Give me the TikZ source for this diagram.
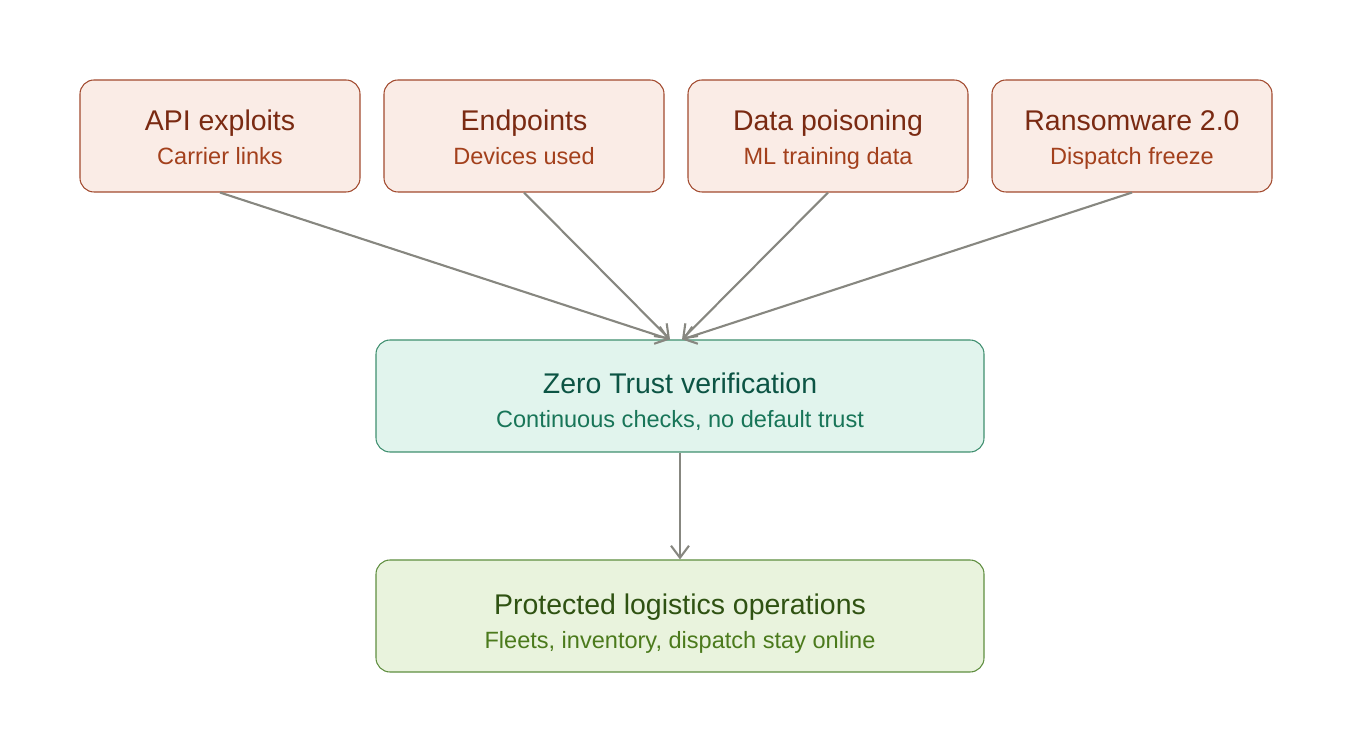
\documentclass[tikz,border=0pt]{standalone}
\usepackage{fontspec}
\setmainfont{Liberation Sans}
\usetikzlibrary{arrows.meta}

\definecolor{riskfill}{HTML}{FAECE6}
\definecolor{riskline}{HTML}{A24A2E}
\definecolor{risktitle}{HTML}{7A2A12}
\definecolor{risksub}{HTML}{A3401C}
\definecolor{ztfill}{HTML}{E1F4ED}
\definecolor{ztline}{HTML}{3F8F6F}
\definecolor{zttitle}{HTML}{0C5444}
\definecolor{ztsub}{HTML}{187558}
\definecolor{okfill}{HTML}{E9F3DD}
\definecolor{okline}{HTML}{5F8E40}
\definecolor{oktitle}{HTML}{2F5212}
\definecolor{oksub}{HTML}{4B7A1C}
\definecolor{arrowgray}{HTML}{878780}

\tikzset{
  box/.style={rectangle,rounded corners=0.28cm,line width=0.6pt,inner sep=0pt},
  riskbox/.style={box,draw=riskline,fill=riskfill,minimum width=5.6cm,minimum height=2.24cm},
  ztbox/.style={box,draw=ztline,fill=ztfill,minimum width=12.16cm,minimum height=2.24cm},
  okbox/.style={box,draw=okline,fill=okfill,minimum width=12.16cm,minimum height=2.24cm},
  title/.style={anchor=base,inner sep=0pt,font=\fontsize{16.2}{19}\selectfont},
  sub/.style={anchor=base,inner sep=0pt,font=\fontsize{13.4}{16}\selectfont},
  flow/.style={draw=arrowgray,line width=1.2pt,-{Straight Barb[length=2.4mm,width=3.6mm]}}
}

\begin{document}
\begin{tikzpicture}
        \useasboundingbox (0,0) rectangle (27.2,15.04);

        % threats
        \node[riskbox] (api) at (4.4,12.32) {};
        \node[riskbox] (endp) at (10.48,12.32) {};
        \node[riskbox] (poison) at (16.56,12.32) {};
        \node[riskbox] (ransom) at (22.64,12.32) {};

        \node[title,text=risktitle] (apit) at ([yshift=0.1cm]api.center) {API exploits};
        \node[sub,text=risksub] (apis) at ([yshift=-0.58cm]api.center) {Carrier links};
        \node[title,text=risktitle] (endpt) at ([yshift=0.1cm]endp.center) {Endpoints};
        \node[sub,text=risksub] (endps) at ([yshift=-0.58cm]endp.center) {Devices used};
        \node[title,text=risktitle] (poisont) at ([yshift=0.1cm]poison.center) {Data poisoning};
        \node[sub,text=risksub] (poisons) at ([yshift=-0.58cm]poison.center) {ML training data};
        \node[title,text=risktitle] (ransomt) at ([yshift=0.1cm]ransom.center) {Ransomware 2.0};
        \node[sub,text=risksub] (ransoms) at ([yshift=-0.58cm]ransom.center) {Dispatch freeze};

        % verification
        \node[ztbox] (zt) at (13.6,7.12) {};
        \node[title,text=zttitle] (ztt) at ([yshift=0.04cm]zt.center) {Zero Trust verification};
        \node[sub,text=ztsub] (zts) at ([yshift=-0.64cm]zt.center) {Continuous checks, no default trust};

        % outcome
        \node[okbox] (ops) at (13.6,2.72) {};
        \node[title,text=oktitle] (opst) at ([yshift=0.04cm]ops.center) {Protected logistics operations};
        \node[sub,text=oksub] (opss) at ([yshift=-0.64cm]ops.center) {Fleets, inventory, dispatch stay online};

        \draw[flow] (api.south) -- ([xshift=-0.2cm]zt.north);
        \draw[flow] (endp.south) -- ([xshift=-0.2cm]zt.north);
        \draw[flow] (poison.south) -- ([xshift=0.04cm]zt.north);
        \draw[flow] (ransom.south) -- ([xshift=0.04cm]zt.north);

        \draw[flow] (zt.south) -- (ops.north);
\end{tikzpicture}
\end{document}
